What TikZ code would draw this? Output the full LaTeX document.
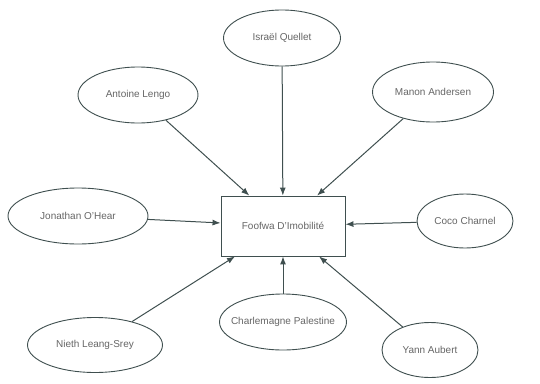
\documentclass[tikz,border=0pt]{standalone}
\usepackage{fontspec}
\setmainfont{Liberation Sans}
\usetikzlibrary{shapes.geometric,arrows.meta}
\definecolor{edgegray}{HTML}{3F4F4F}
\definecolor{textgray}{HTML}{666666}

\begin{document}
\begin{tikzpicture}[x=1pt, y=-1pt,
  every node/.style={font=\fontsize{10}{12}\selectfont, text=textgray},
  person/.style={draw=edgegray, ellipse, fill=white, line width=0.9pt, minimum height=56pt, inner ysep=0pt, inner xsep=-20pt},
  target/.style={draw=edgegray, rectangle, fill=white, line width=0.9pt, minimum width=124pt, minimum height=60pt},
  link/.style={-{Latex[length=8pt,width=6pt]}, draw=edgegray, line width=1pt}]
\useasboundingbox (0,0) rectangle (540,383);
\node[target] (FD) at (283,226) {Foofwa D'Imobilité};
\node[person, minimum width=117pt] (IQ) at (282,38) {Israël Quellet};
\node[person, minimum width=120pt] (AL) at (138,95) {Antoine Lengo};
\node[person, minimum width=121pt, minimum height=60pt] (MA) at (433,92) {Manon Andersen};
\node[person, minimum width=140pt] (JO) at (78,216) {Jonathan O'Hear};
\node[person, minimum width=96pt, minimum height=54pt] (CC) at (465,221) {Coco Charnel};
\node[person, minimum width=135pt, minimum height=55pt] (NL) at (95,345) {Nieth Leang-Srey};
\node[person, minimum width=127pt] (CP) at (283,322) {Charlemagne Palestine};
\node[person, minimum width=96pt, minimum height=55pt] (YA) at (430,350) {Yann Aubert};
\draw[link] (IQ) -- (FD);
\draw[link] (AL) -- (FD);
\draw[link] (MA) -- (FD);
\draw[link] (JO) -- (FD);
\draw[link] (CC) -- (FD);
\draw[link] (NL) -- (FD);
\draw[link] (CP) -- (FD);
\draw[link] (YA) -- (FD);
\end{tikzpicture}
\end{document}
